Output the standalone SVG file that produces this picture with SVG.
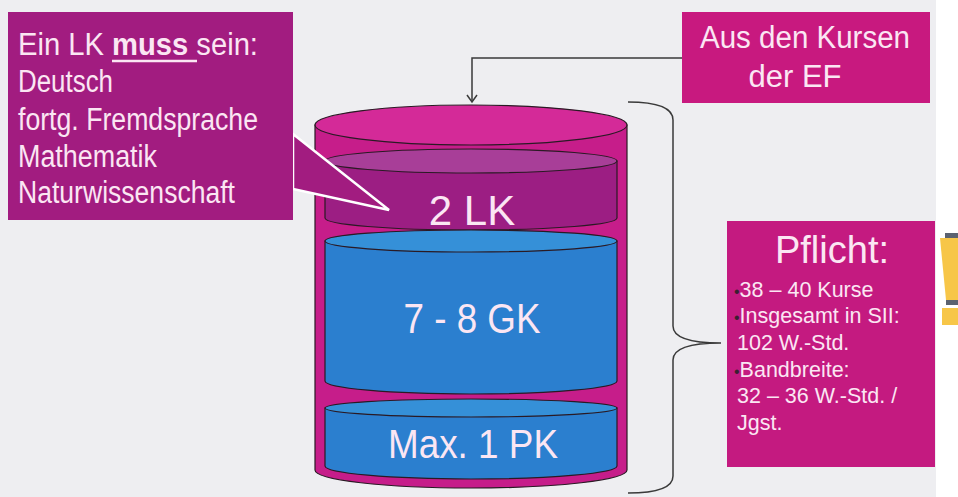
<svg xmlns="http://www.w3.org/2000/svg" width="958" height="497" viewBox="0 0 958 497">
<defs>
<style>
.t{font-family:"Liberation Sans",Arial,sans-serif;fill:#fbe6f3}
.edge{stroke:#2a1a24;stroke-width:1.2}
.conn{fill:none;stroke:#3a3a3a;stroke-width:1.5}
.bul{fill:#3a2030;font-size:16px}
</style>
<marker id="vArrow" markerWidth="12" markerHeight="12" refX="10" refY="6" orient="auto" markerUnits="userSpaceOnUse" viewBox="0 0 12 12">
<path d="M3 1 L10 6 L3 11" fill="none" stroke="#3a3a3a" stroke-width="1.5"/>
</marker>
</defs>
<rect x="0" y="0" width="958" height="497" fill="#ffffff"/>
<rect x="0" y="0" width="936" height="497" fill="#eeeef1"/>

<g id="connectors">
<path class="conn" d="M682 58 L472 58 L472 102" marker-end="url(#vArrow)"/>
<path class="conn" d="M628 102 Q673 102 673 120 L673 326 Q673 343 721 343 Q673 343 673 360 L673 476 Q673 493 628 493"/>
</g>

<g id="box-ef">
<rect x="682" y="12" width="248" height="91" fill="#c8197f"/>
<text class="t" x="805" y="48" font-size="31" text-anchor="middle" textLength="210" lengthAdjust="spacingAndGlyphs">Aus den Kursen</text>
<text class="t" x="795" y="87" font-size="31" text-anchor="middle">der EF</text>
</g>

<g id="cylinder">
<path class="edge" d="M315 125 L315 470 A156 18 0 0 0 627 470 L627 125 Z" fill="#c61d8a"/>
<ellipse class="edge" cx="471" cy="125" rx="156" ry="20" fill="#d42a98"/>
</g>

<g id="disc-lk">
<path class="edge" d="M325 161 L325 218 A146 12 0 0 0 617 218 L617 161 Z" fill="#9c1e83"/>
<ellipse class="edge" cx="471" cy="161" rx="146" ry="12" fill="#a83e98"/>
<text class="t" x="472" y="225" font-size="42" text-anchor="middle">2 LK</text>
</g>

<g id="disc-gk">
<path class="edge" d="M325 241 L325 381 A146 13 0 0 0 617 381 L617 241 Z" fill="#2b7fcf"/>
<ellipse class="edge" cx="471" cy="241" rx="146" ry="11" fill="#3590d8"/>
<text class="t" x="472" y="333" font-size="42" text-anchor="middle" textLength="137" lengthAdjust="spacingAndGlyphs">7 - 8 GK</text>
</g>

<g id="disc-pk">
<path class="edge" d="M325 408 L325 466 A146 13 0 0 0 617 466 L617 408 Z" fill="#2b7fcf"/>
<ellipse class="edge" cx="471" cy="408" rx="146" ry="9" fill="#3590d8"/>
<text class="t" x="473" y="458" font-size="40" text-anchor="middle" textLength="170" lengthAdjust="spacingAndGlyphs">Max. 1 PK</text>
</g>

<g id="callout-lk">
<polygon points="293,134 389,210 293,189" fill="#a21c80" stroke="#ffffff" stroke-width="2.5" stroke-linejoin="miter"/>
<rect x="8" y="12" width="285" height="208" fill="#a21c80"/>
<text class="t" x="18" y="55" font-size="31" textLength="240" lengthAdjust="spacingAndGlyphs">Ein LK <tspan font-weight="bold">muss</tspan> sein:</text>
<line x1="112" y1="61" x2="197" y2="61" stroke="#fbe6f3" stroke-width="2.5"/>
<text class="t" x="18" y="92" font-size="31" textLength="95" lengthAdjust="spacingAndGlyphs">Deutsch</text>
<text class="t" x="18" y="130" font-size="31" textLength="240" lengthAdjust="spacingAndGlyphs">fortg. Fremdsprache</text>
<text class="t" x="18" y="167" font-size="31" textLength="139" lengthAdjust="spacingAndGlyphs">Mathematik</text>
<text class="t" x="18" y="203" font-size="31" textLength="217" lengthAdjust="spacingAndGlyphs">Naturwissenschaft</text>
</g>

<g id="box-pflicht">
<rect x="727" y="221" width="208" height="246" fill="#c41a80"/>
<text class="t" x="832" y="263" font-size="38" text-anchor="middle">Pflicht:</text>
<text class="t" x="734" y="297" font-size="21.5"><tspan class="bul">•</tspan>38 – 40 Kurse</text>
<text class="t" x="734" y="323" font-size="21.5"><tspan class="bul">•</tspan>Insgesamt in SII:</text>
<text class="t" x="737" y="350" font-size="21.5">102 W.-Std.</text>
<text class="t" x="734" y="377" font-size="21.5"><tspan class="bul">•</tspan>Bandbreite:</text>
<text class="t" x="737" y="403" font-size="21.5">32 – 36 W.-Std. /</text>
<text class="t" x="737" y="430" font-size="21.5">Jgst.</text>
</g>

<g id="exclamation">
<rect x="945" y="233" width="13" height="5" fill="#5b6270"/>
<polygon points="940,238 958,238 958,300 946,300" fill="#f7c648"/>
<rect x="946" y="300" width="12" height="5" fill="#5b6270"/>
<rect x="942" y="308" width="16" height="17" fill="#f7c648"/>
</g>
</svg>
